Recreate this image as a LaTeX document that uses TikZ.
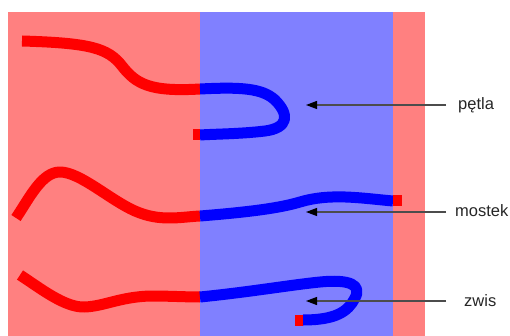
\documentclass[tikz,border=0pt]{standalone}
\usepackage{fontspec}
\setmainfont{Liberation Sans}
\usetikzlibrary{positioning, arrows.meta}
\definecolor{pinkbg}{RGB}{255,128,128}
\definecolor{bluebg}{RGB}{128,128,255}
\definecolor{redchain}{RGB}{255,0,0}
\definecolor{bluechain}{RGB}{0,0,255}

\tikzset{
	chain/.style={line width=11pt, line cap=butt, line join=round},
	redpart/.style={chain, draw=redchain},
	bluepart/.style={chain, draw=bluechain},
	pointer/.style={draw=black!70, line width=1.2pt, -{Triangle[length=11pt, width=8pt, color=black]}},
	tag/.style={anchor=base west, inner sep=0pt, font=\fontsize{16.5}{20}\selectfont, text=black!85}
}

\begin{document}
\begin{tikzpicture}[x=1pt, y=-1pt]
				\useasboundingbox (0,0) rectangle (510,336);

				% the two phases
				\fill[pinkbg] (8,12) rectangle (425,336);
				\fill[bluebg] (200,12) rectangle (393,336);

				% loop
				\draw[redpart] (22,41) .. controls (90,43) and (108,48) .. (122,66)
					.. controls (136,84) and (150,92) .. (200,89);
				\draw[bluepart] (200,89) .. controls (240,87) and (262,88) .. (275,100)
					.. controls (290,115) and (288,128) .. (265,131)
					.. controls (240,134) and (215,134) .. (200,135);
				\draw[redpart] (200,135) -- (193,135);

				% bridge
				\draw[redpart] (16,218) .. controls (30,197) and (42,172) .. (60,172)
					.. controls (80,172) and (110,200) .. (135,211)
					.. controls (160,222) and (180,217) .. (200,216);
				\draw[bluepart] (200,216) .. controls (250,212) and (280,208) .. (300,202)
					.. controls (330,193) and (360,198) .. (393,201);
				\draw[redpart] (393,201) -- (402,201);

				% dangling end
				\draw[redpart] (20,275) .. controls (40,288) and (65,308) .. (85,307)
					.. controls (105,306) and (120,297) .. (150,296)
					.. controls (170,296) and (185,297) .. (200,297);
				\draw[bluepart] (200,297) .. controls (250,292) and (290,285) .. (320,282)
					.. controls (350,279) and (362,285) .. (355,298)
					.. controls (348,312) and (335,320) .. (303,320);
				\draw[redpart] (303,320) -- (295,320);

				% labels
				\node[tag] (petla) at (458,110) {pętla};
				\node[tag] (mostek) at (455,217) {mostek};
				\node[tag] (zwis) at (464,306) {zwis};

				\coordinate (petla-from) at (446,105);
				\coordinate (petla-to) at (306,105);
				\coordinate (mostek-from) at (446,212);
				\coordinate (mostek-to) at (306,212);
				\coordinate (zwis-from) at (446,301);
				\coordinate (zwis-to) at (306,301);

				\draw[pointer] (petla-from) -- (petla-to);
				\draw[pointer] (mostek-from) -- (mostek-to);
				\draw[pointer] (zwis-from) -- (zwis-to);
			\end{tikzpicture}
\end{document}
